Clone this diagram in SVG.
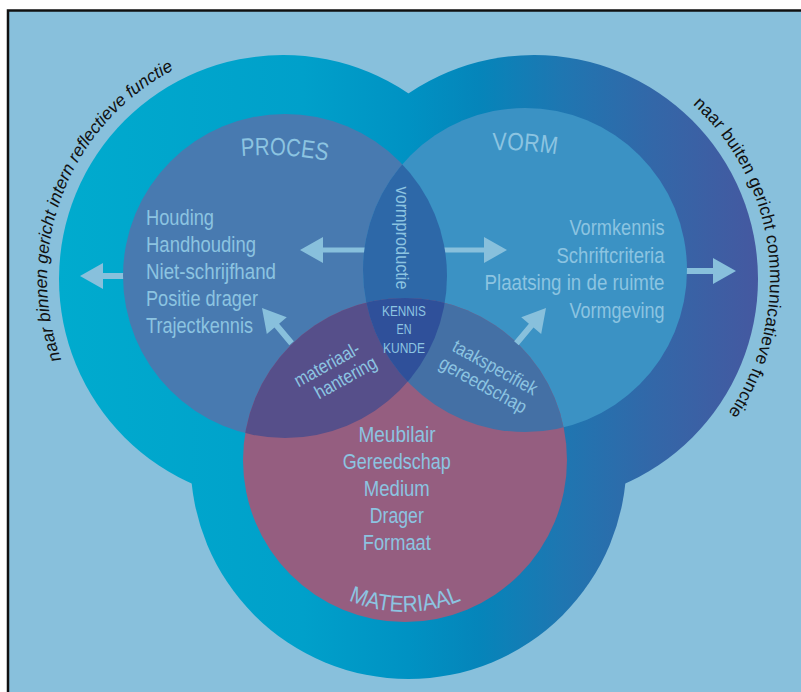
<svg xmlns="http://www.w3.org/2000/svg" width="801" height="692" viewBox="0 0 801 692">
<style>
.lbl{fill:#8cc4e1;font-family:"Liberation Sans",Arial,sans-serif;}
.list{font-size:22px;}
.title{font-size:25px;}
.small{font-size:19px;}
.side{fill:#111;font-family:"Liberation Sans",Arial,sans-serif;font-size:17.5px;}
.arrow{fill:#88c0dc;}
</style>
<defs>
<linearGradient id="outerGrad" gradientUnits="userSpaceOnUse" x1="57" y1="0" x2="760" y2="0">
<stop offset="0" stop-color="#00abce"/>
<stop offset="0.35" stop-color="#00a0ca"/>
<stop offset="0.5" stop-color="#0092c3"/>
<stop offset="0.6" stop-color="#0585ba"/>
<stop offset="0.72" stop-color="#1f76b1"/>
<stop offset="0.85" stop-color="#3367a8"/>
<stop offset="1" stop-color="#4558a0"/>
</linearGradient>
<clipPath id="clipP"><circle cx="285" cy="276" r="162"/></clipPath>
<clipPath id="clipV"><circle cx="525" cy="270" r="162"/></clipPath>
<path id="arcLeft" d="M69.1,378.7 A236,236 0 0 1 202.3,57.2"/>
<path id="arcRight" d="M669.4,85.7 A236,236 0 0 1 700.9,445.9"/>
<path id="arcMat" d="M281.2,540.5 A143,143 0 0 0 528.8,540.5"/>
<path id="arcProces" d="M200,162.8 A300,300 0 0 1 370,172.9"/>
<path id="arcVorm" d="M450,155.1 A300,300 0 0 1 600,165.4"/>
<polygon id="diagArrow" points="0,0 -23,-13 -23,-3 -46,-3 -46,3 -23,3 -23,13"/>
</defs>

<rect x="8" y="10.5" width="800" height="700" fill="#88c0dc" stroke="#111" stroke-width="2.5"/>

<g id="outer-shape" fill="url(#outerGrad)">
<circle cx="283" cy="279" r="224"/>
<circle cx="534" cy="279" r="224"/>
<circle cx="408.5" cy="461" r="218"/>
</g>

<g id="connectors-outer" class="arrow">
<polygon points="80,276 103,263 103,273 135,273 135,279 103,279 103,289"/>
<polygon points="736,271 713,258 713,268 680,268 680,274 713,274 713,284"/>
</g>

<g id="node-proces">
<circle cx="285" cy="276" r="162" fill="#487ab0"/>
</g>
<g id="node-vorm">
<circle cx="525" cy="270" r="162" fill="#3b92c4"/>
</g>

<g id="connectors-inner" class="arrow">
<polygon points="300,250 323,237 323,247.5 368,247.5 368,252.5 323,252.5 323,263"/>
<polygon points="507,250 484,237 484,247.5 440,247.5 440,252.5 484,252.5 484,263"/>
</g>

<g id="node-vormproductie" clip-path="url(#clipP)">
<circle cx="525" cy="270" r="162" fill="#2d68a8"/>
</g>

<g id="node-materiaal">
<circle cx="405" cy="460" r="162" fill="#955e80"/>
</g>
<g id="node-materiaalhantering" clip-path="url(#clipP)">
<circle cx="405" cy="460" r="162" fill="#564f8a"/>
</g>
<g id="node-taakspecifiek" clip-path="url(#clipV)">
<circle cx="405" cy="460" r="162" fill="#4470a5"/>
</g>
<g id="node-kennis-en-kunde" clip-path="url(#clipP)">
<g clip-path="url(#clipV)">
<circle cx="405" cy="460" r="162" fill="#2f509a"/>
</g>
</g>

<g id="connectors-diagonal" class="arrow">
<use href="#diagArrow" transform="translate(262,308) rotate(230)"/>
<use href="#diagArrow" transform="translate(546,308) rotate(-50)"/>
</g>

<g id="labels-proces" class="lbl">
<text class="title"><textPath href="#arcProces" startOffset="42" textLength="86" lengthAdjust="spacingAndGlyphs">PROCES</textPath></text>
<g class="list">
<text x="146" y="224.5" textLength="68" lengthAdjust="spacingAndGlyphs">Houding</text>
<text x="146" y="251.7" textLength="110" lengthAdjust="spacingAndGlyphs">Handhouding</text>
<text x="146" y="278.9" textLength="130" lengthAdjust="spacingAndGlyphs">Niet-schrijfhand</text>
<text x="146" y="306.1" textLength="112" lengthAdjust="spacingAndGlyphs">Positie drager</text>
<text x="146" y="333.3" textLength="107" lengthAdjust="spacingAndGlyphs">Trajectkennis</text>
</g>
</g>

<g id="labels-vorm" class="lbl">
<text class="title"><textPath href="#arcVorm" startOffset="43" textLength="64" lengthAdjust="spacingAndGlyphs">VORM</textPath></text>
<g class="list">
<text x="569.5" y="235" textLength="95" lengthAdjust="spacingAndGlyphs">Vormkennis</text>
<text x="556.5" y="262.5" textLength="108" lengthAdjust="spacingAndGlyphs">Schriftcriteria</text>
<text x="484.5" y="290" textLength="180" lengthAdjust="spacingAndGlyphs">Plaatsing in de ruimte</text>
<text x="569.5" y="317.5" textLength="95" lengthAdjust="spacingAndGlyphs">Vormgeving</text>
</g>
</g>

<g id="labels-materiaal" class="lbl">
<text font-size="23"><textPath href="#arcMat" startOffset="50%" text-anchor="middle" textLength="116" lengthAdjust="spacingAndGlyphs">MATERIAAL</textPath></text>
<g class="list">
<text x="358.5" y="442" textLength="77" lengthAdjust="spacingAndGlyphs">Meubilair</text>
<text x="342.8" y="469.3" textLength="108" lengthAdjust="spacingAndGlyphs">Gereedschap</text>
<text x="363.8" y="496" textLength="66" lengthAdjust="spacingAndGlyphs">Medium</text>
<text x="369.8" y="523.3" textLength="54" lengthAdjust="spacingAndGlyphs">Drager</text>
<text x="362.8" y="550" textLength="68" lengthAdjust="spacingAndGlyphs">Formaat</text>
</g>
</g>

<g id="labels-overlaps" class="lbl">
<text class="small" transform="translate(396,238) rotate(90)" x="-51.5" y="0" textLength="103" lengthAdjust="spacingAndGlyphs">vormproductie</text>
<g font-size="15">
<text x="382" y="315.5" textLength="44" lengthAdjust="spacingAndGlyphs">KENNIS</text>
<text x="396.5" y="334" textLength="15" lengthAdjust="spacingAndGlyphs">EN</text>
<text x="383" y="353" textLength="42" lengthAdjust="spacingAndGlyphs">KUNDE</text>
</g>
<g class="small" transform="translate(330,370) rotate(-29)">
<text x="-36" y="0" textLength="72" lengthAdjust="spacingAndGlyphs">materiaal-</text>
<text x="-24" y="20.5" textLength="68" lengthAdjust="spacingAndGlyphs">hantering</text>
</g>
<g class="small" transform="translate(492,373) rotate(29)">
<text x="-47" y="0" textLength="94" lengthAdjust="spacingAndGlyphs">taakspecifiek</text>
<text x="-50.5" y="21" textLength="97" lengthAdjust="spacingAndGlyphs">gereedschap</text>
</g>
</g>

<g id="side-labels">
<g class="side" font-style="italic">
<text><textPath href="#arcLeft" startOffset="20.6">naar</textPath></text>
<text><textPath href="#arcLeft" startOffset="60.5">binnen</textPath></text>
<text><textPath href="#arcLeft" startOffset="117.9">gericht</textPath></text>
<text><textPath href="#arcLeft" startOffset="175.3">intern</textPath></text>
<text><textPath href="#arcLeft" startOffset="223.9">reflectieve</textPath></text>
<text><textPath href="#arcLeft" startOffset="308.5">functie</textPath></text>
</g>
<text class="side" letter-spacing="0.15"><textPath href="#arcRight" startOffset="30">naar buiten gericht communicatieve functie</textPath></text>
</g>
</svg>
